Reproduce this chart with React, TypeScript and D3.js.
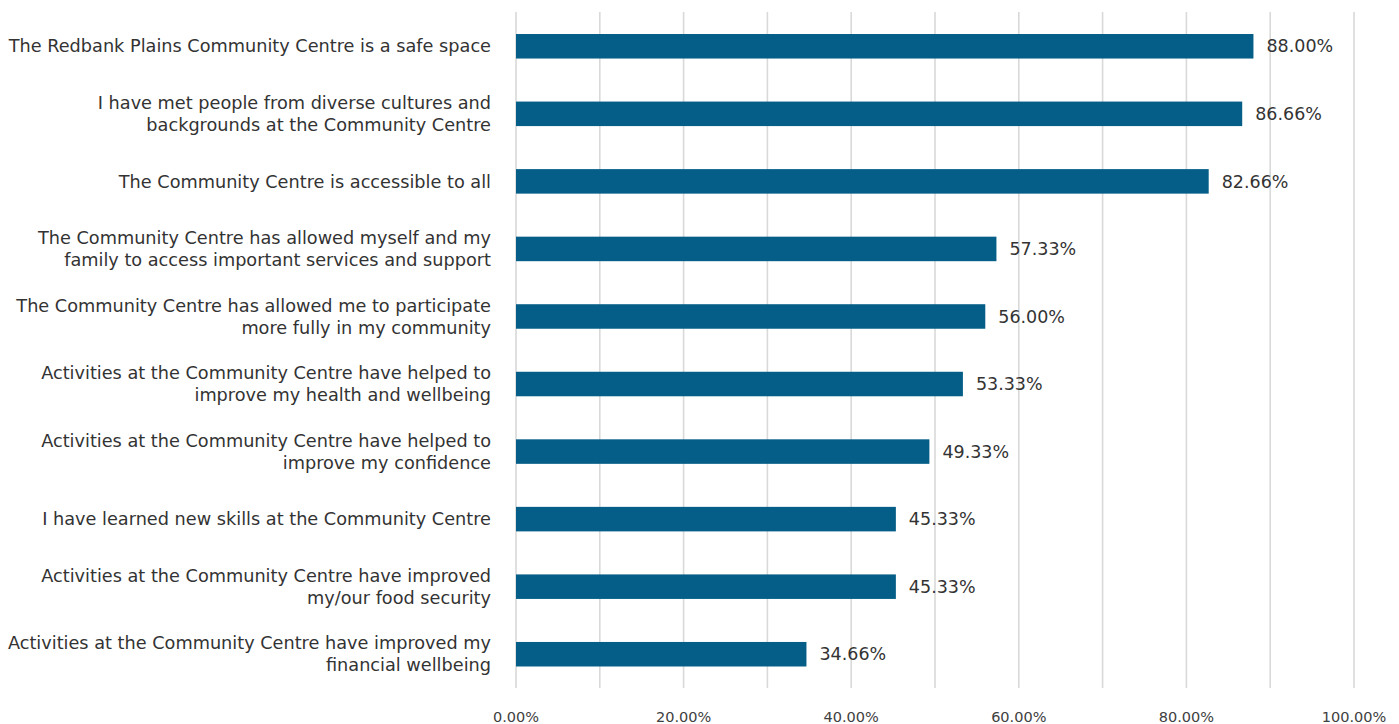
import React from "react";
import * as d3 from "d3";

const categories: string[][] = [
  ["The Redbank Plains Community Centre is a safe space"],
  ["I have met people from diverse cultures and", "backgrounds at the Community Centre"],
  ["The Community Centre is accessible to all"],
  ["The Community Centre has allowed myself and my", "family to access important services and support"],
  ["The Community Centre has allowed me to participate", "more fully in my community"],
  ["Activities at the Community Centre have helped to", "improve my health and wellbeing"],
  ["Activities at the Community Centre have helped to", "improve my confidence"],
  ["I have learned new skills at the Community Centre"],
  ["Activities at the Community Centre have improved", "my/our food security"],
  ["Activities at the Community Centre have improved my", "financial wellbeing"],
];
const values: number[] = [88.0, 86.66, 82.66, 57.33, 56.0, 53.33, 49.33, 45.33, 45.33, 34.66];
const gridTicks: number[] = [0, 10, 20, 30, 40, 50, 60, 70, 80, 90, 100];
const labelTicks: number[] = [0, 20, 40, 60, 80, 100];

export default function App() {
  const W = 1399, H = 724;
  const x = d3.scaleLinear().domain([0, 100]).range([516, 1354]);
  const y = d3.scaleBand<number>().domain(d3.range(values.length)).range([12.5, 688]).paddingInner(0.637).paddingOuter(0.3185);
  const font = "'DejaVu Sans', sans-serif";
  const fmt = (v: number) => v.toFixed(2) + "%";
  return (
    <svg width={W} height={H} style={{ position: "absolute", left: 0, top: 0, background: "#fff" }} fontFamily={font}>
      {gridTicks.map((t) => (
        <line key={t} x1={x(t)} x2={x(t)} y1={12} y2={688} stroke="#d9d9d9" strokeWidth={1.6} />
      ))}
      {values.map((v, i) => (
        <rect key={i} x={x(0)} y={y(i)!} width={x(v) - x(0)} height={y.bandwidth()} fill="#045e87" />
      ))}
      {values.map((v, i) => (
        <text key={i} x={x(v) + 13} y={y(i)! + y.bandwidth() / 2} dy="0.35em" fontSize={17.5} fill="#333">
          {fmt(v)}
        </text>
      ))}
      {categories.map((lines, i) => {
        const cy = y(i)! + y.bandwidth() / 2;
        const lh = 22;
        const start = cy - ((lines.length - 1) * lh) / 2;
        return (
          <text key={i} x={491} textAnchor="end" fontSize={17.7} fill="#333">
            {lines.map((l, j) => (
              <tspan key={j} x={491} y={start + j * lh} dy="0.35em">{l}</tspan>
            ))}
          </text>
        );
      })}
      {labelTicks.map((t) => (
        <text key={t} x={x(t)} y={717} dy="0.35em" textAnchor="middle" fontSize={14.5} fill="#404040">
          {fmt(t)}
        </text>
      ))}
    </svg>
  );
}
